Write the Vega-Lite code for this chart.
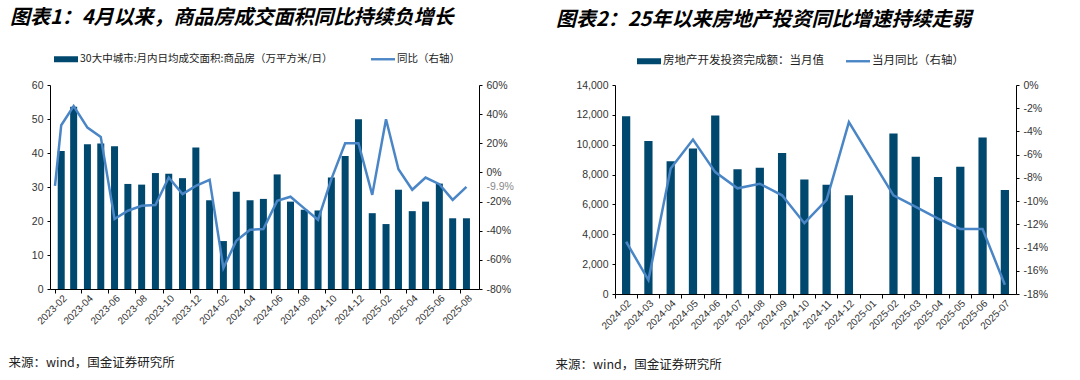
{
  "$schema": "https://vega.github.io/schema/vega-lite/v6.json",
  "background": "white",
  "padding": {"left": 8, "top": 8, "right": 0, "bottom": 0},
  "spacing": 41,
  "config": {
    "view": {"stroke": null},
    "axis": {"labelFont": "Liberation Sans", "labelFontSize": 10.5, "labelColor": "#333333", "domainColor": "#000000", "tickColor": "#000000", "grid": false, "tickSize": 3, "labelPadding": 4}
  },
  "resolve": {"scale": {"color": "independent"}, "legend": {"color": "independent"}},
  "hconcat": [
    {
      "width": 429,
      "height": 204,
      "title": {"text": "图表1：4月以来，商品房成交面积同比持续负增长", "anchor": "start", "frame": "group", "dx": -40, "offset": 19, "font": "Noto Sans CJK SC", "fontSize": 20, "fontWeight": "bold", "fontStyle": "italic", "color": "#000000"},
      "layer": [
        {
          "data": {"values": [
            {"month": "2023-02-15", "area": 40.6}, {"month": "2023-03-15", "area": 53.6}, {"month": "2023-04-15", "area": 42.6}, {"month": "2023-05-15", "area": 42.8}, {"month": "2023-06-15", "area": 42.0}, {"month": "2023-07-15", "area": 30.9}, {"month": "2023-08-15", "area": 30.7}, {"month": "2023-09-15", "area": 34.1}, {"month": "2023-10-15", "area": 33.9}, {"month": "2023-11-15", "area": 32.6}, {"month": "2023-12-15", "area": 41.6},
            {"month": "2024-01-15", "area": 26.1}, {"month": "2024-02-15", "area": 14.1}, {"month": "2024-03-15", "area": 28.6}, {"month": "2024-04-15", "area": 26.1}, {"month": "2024-05-15", "area": 26.5}, {"month": "2024-06-15", "area": 33.7}, {"month": "2024-07-15", "area": 25.7}, {"month": "2024-08-15", "area": 23.3}, {"month": "2024-09-15", "area": 23.1}, {"month": "2024-10-15", "area": 32.8}, {"month": "2024-11-15", "area": 39.1}, {"month": "2024-12-15", "area": 49.9},
            {"month": "2025-01-15", "area": 22.3}, {"month": "2025-02-15", "area": 19.1}, {"month": "2025-03-15", "area": 29.2}, {"month": "2025-04-15", "area": 22.9}, {"month": "2025-05-15", "area": 25.7}, {"month": "2025-06-15", "area": 31.0}, {"month": "2025-07-15", "area": 20.8}, {"month": "2025-08-15", "area": 20.8}
          ]},
          "mark": {"type": "bar", "size": 7},
          "encoding": {
            "x": {"field": "month", "type": "temporal",
              "scale": {"type": "utc", "domain": [{"year": 2023, "month": 2, "date": 1, "utc": true}, {"year": 2025, "month": 9, "date": 1, "utc": true}]},
              "axis": {"orient": "bottom", "ticks": false, "labelAngle": -45, "labelFontSize": 10, "labelOverlap": false, "labelExpr": "utcFormat(datum.value, '%Y-%m')",
                "values": [
                  {"year": 2023, "month": 2, "date": 15, "utc": true}, {"year": 2023, "month": 4, "date": 15, "utc": true}, {"year": 2023, "month": 6, "date": 15, "utc": true}, {"year": 2023, "month": 8, "date": 15, "utc": true}, {"year": 2023, "month": 10, "date": 15, "utc": true}, {"year": 2023, "month": 12, "date": 15, "utc": true},
                  {"year": 2024, "month": 2, "date": 15, "utc": true}, {"year": 2024, "month": 4, "date": 15, "utc": true}, {"year": 2024, "month": 6, "date": 15, "utc": true}, {"year": 2024, "month": 8, "date": 15, "utc": true}, {"year": 2024, "month": 10, "date": 15, "utc": true}, {"year": 2024, "month": 12, "date": 15, "utc": true},
                  {"year": 2025, "month": 2, "date": 15, "utc": true}, {"year": 2025, "month": 4, "date": 15, "utc": true}, {"year": 2025, "month": 6, "date": 15, "utc": true}, {"year": 2025, "month": 8, "date": 15, "utc": true}
                ],
                "title": "来源：wind，国金证券研究所", "titleX": -42, "titleY": 77, "titleAlign": "left", "titleBaseline": "alphabetic", "titleAngle": 0, "titleFont": "Noto Sans CJK SC", "titleFontSize": 12.5, "titleFontWeight": "normal", "titleColor": "#222222"}},
            "y": {"field": "area", "type": "quantitative", "scale": {"domain": [0, 60]},
              "axis": {"orient": "left", "values": [0, 10, 20, 30, 40, 50, 60], "title": null}},
            "color": {"datum": "30大中城市:月内日均成交面积:商品房（万平方米/日）", "type": "nominal",
              "scale": {"domain": ["30大中城市:月内日均成交面积:商品房（万平方米/日）", "同比（右轴）"], "range": ["#00486e", "#4a86c6"]},
              "legend": {"orient": "none", "legendX": 4, "legendY": -38, "direction": "horizontal", "title": null, "labelFont": "Noto Sans CJK SC", "labelFontSize": 10.5, "labelColor": "#222222", "labelLimit": 400, "columnPadding": 38, "labelOffset": 2,
                "encode": {"symbols": {"update": {
                  "shape": {"signal": "datum.value === '同比（右轴）' ? 'M-1,-0.1H1V0.1H-1Z' : 'M-1,-0.25H1V0.25H-1Z'"},
                  "fill": {"signal": "datum.value === '同比（右轴）' ? '#4a86c6' : '#00486e'"},
                  "stroke": {"value": "transparent"}, "strokeWidth": {"value": 0}, "size": {"value": 576}, "opacity": {"value": 1}}}}}}
          }
        },
        {
          "data": {"values": [
            {"month": "2023-02-01", "yoy": -9.2},
            {"month": "2023-02-15", "yoy": 32.4}, {"month": "2023-03-15", "yoy": 45.6}, {"month": "2023-04-15", "yoy": 30.8}, {"month": "2023-05-15", "yoy": 24.4}, {"month": "2023-06-15", "yoy": -32.0}, {"month": "2023-07-15", "yoy": -26.3}, {"month": "2023-08-15", "yoy": -22.9}, {"month": "2023-09-15", "yoy": -22.4}, {"month": "2023-10-15", "yoy": -3.5}, {"month": "2023-11-15", "yoy": -14.9}, {"month": "2023-12-15", "yoy": -9.2},
            {"month": "2024-01-15", "yoy": -5.1}, {"month": "2024-02-15", "yoy": -65.6}, {"month": "2024-03-15", "yoy": -46.9}, {"month": "2024-04-15", "yoy": -39.3}, {"month": "2024-05-15", "yoy": -38.9}, {"month": "2024-06-15", "yoy": -19.5}, {"month": "2024-07-15", "yoy": -16.7}, {"month": "2024-08-15", "yoy": -24.7}, {"month": "2024-09-15", "yoy": -32.5}, {"month": "2024-10-15", "yoy": -4.6}, {"month": "2024-11-15", "yoy": 20.0}, {"month": "2024-12-15", "yoy": 20.0},
            {"month": "2025-01-15", "yoy": -15.4}, {"month": "2025-02-15", "yoy": 36.5}, {"month": "2025-03-15", "yoy": 2.2}, {"month": "2025-04-15", "yoy": -11.9}, {"month": "2025-05-15", "yoy": -3.5}, {"month": "2025-06-15", "yoy": -8.1}, {"month": "2025-07-15", "yoy": -18.8}, {"month": "2025-08-15", "yoy": -9.9}
          ]},
          "mark": {"type": "line", "strokeWidth": 2.5, "strokeJoin": "miter"},
          "encoding": {
            "x": {"field": "month", "type": "temporal",
              "axis": {"orient": "bottom", "labels": false, "domain": false, "ticks": true, "tickSize": 4, "title": null,
                "values": [
                  {"year": 2023, "month": 2, "date": 1, "utc": true}, {"year": 2023, "month": 4, "date": 1, "utc": true}, {"year": 2023, "month": 6, "date": 1, "utc": true}, {"year": 2023, "month": 8, "date": 1, "utc": true}, {"year": 2023, "month": 10, "date": 1, "utc": true}, {"year": 2023, "month": 12, "date": 1, "utc": true},
                  {"year": 2024, "month": 2, "date": 1, "utc": true}, {"year": 2024, "month": 4, "date": 1, "utc": true}, {"year": 2024, "month": 6, "date": 1, "utc": true}, {"year": 2024, "month": 8, "date": 1, "utc": true}, {"year": 2024, "month": 10, "date": 1, "utc": true}, {"year": 2024, "month": 12, "date": 1, "utc": true},
                  {"year": 2025, "month": 2, "date": 1, "utc": true}, {"year": 2025, "month": 4, "date": 1, "utc": true}, {"year": 2025, "month": 6, "date": 1, "utc": true}, {"year": 2025, "month": 8, "date": 1, "utc": true}
                ]}},
            "y": {"field": "yoy", "type": "quantitative", "scale": {"domain": [-80, 60]},
              "axis": {"orient": "right", "title": null, "values": [60, 40, 20, 0, -9.9, -20, -40, -60, -80], "labelExpr": "datum.value + '%'",
                "labelColor": {"condition": {"test": "datum.value == -9.9", "value": "#8a8a8a"}, "value": "#333333"},
                "tickColor": {"condition": {"test": "datum.value == -9.9", "value": "transparent"}, "value": "#000000"}}},
            "color": {"datum": "同比（右轴）", "type": "nominal",
              "scale": {"domain": ["30大中城市:月内日均成交面积:商品房（万平方米/日）", "同比（右轴）"], "range": ["#00486e", "#4a86c6"]},
              "legend": {"orient": "none", "legendX": 4, "legendY": -38, "direction": "horizontal", "title": null, "labelFont": "Noto Sans CJK SC", "labelFontSize": 10.5, "labelColor": "#222222", "labelLimit": 400, "columnPadding": 38, "labelOffset": 2,
                "encode": {"symbols": {"update": {
                  "shape": {"signal": "datum.value === '同比（右轴）' ? 'M-1,-0.1H1V0.1H-1Z' : 'M-1,-0.25H1V0.25H-1Z'"},
                  "fill": {"signal": "datum.value === '同比（右轴）' ? '#4a86c6' : '#00486e'"},
                  "stroke": {"value": "transparent"}, "strokeWidth": {"value": 0}, "size": {"value": 576}, "opacity": {"value": 1}}}}}}
          }
        }
      ],
      "resolve": {"scale": {"y": "independent"}, "axis": {"x": "independent"}}
    },
    {
      "width": 401,
      "height": 209,
      "title": {"text": "图表2：25年以来房地产投资同比增速持续走弱", "anchor": "start", "frame": "group", "dx": -59, "offset": 19, "font": "Noto Sans CJK SC", "fontSize": 20, "fontWeight": "bold", "fontStyle": "italic", "color": "#000000"},
      "layer": [
        {
          "data": {"values": [
            {"month": "2024-02", "inv": 11900}, {"month": "2024-03", "inv": 10250}, {"month": "2024-04", "inv": 8900}, {"month": "2024-05", "inv": 9750}, {"month": "2024-06", "inv": 11950}, {"month": "2024-07", "inv": 8360}, {"month": "2024-08", "inv": 8450}, {"month": "2024-09", "inv": 9450}, {"month": "2024-10", "inv": 7670}, {"month": "2024-11", "inv": 7310}, {"month": "2024-12", "inv": 6620},
            {"month": "2025-02", "inv": 10750}, {"month": "2025-03", "inv": 9190}, {"month": "2025-04", "inv": 7830}, {"month": "2025-05", "inv": 8520}, {"month": "2025-06", "inv": 10480}, {"month": "2025-07", "inv": 6960}
          ]},
          "mark": {"type": "bar", "width": {"band": 0.37}},
          "encoding": {
            "x": {"field": "month", "type": "ordinal", "sort": null,
              "scale": {"domain": ["2024-02", "2024-03", "2024-04", "2024-05", "2024-06", "2024-07", "2024-08", "2024-09", "2024-10", "2024-11", "2024-12", "2025-01", "2025-02", "2025-03", "2025-04", "2025-05", "2025-06", "2025-07"], "paddingInner": 0, "paddingOuter": 0},
              "axis": {"orient": "bottom", "ticks": false, "labelAngle": -45, "labelFontSize": 10, "labelOverlap": false,
                "title": "来源：wind，国金证券研究所", "titleX": -60, "titleY": 74, "titleAlign": "left", "titleBaseline": "alphabetic", "titleAngle": 0, "titleFont": "Noto Sans CJK SC", "titleFontSize": 12.5, "titleFontWeight": "normal", "titleColor": "#222222"}},
            "y": {"field": "inv", "type": "quantitative", "scale": {"domain": [0, 14000]},
              "axis": {"orient": "left", "values": [0, 2000, 4000, 6000, 8000, 10000, 12000, 14000], "format": ",.0f", "title": null}},
            "color": {"datum": "房地产开发投资完成额：当月值", "type": "nominal",
              "scale": {"domain": ["房地产开发投资完成额：当月值", "当月同比（右轴）"], "range": ["#00486e", "#4a86c6"]},
              "legend": {"orient": "none", "legendX": 22, "legendY": -36, "direction": "horizontal", "title": null, "labelFont": "Noto Sans CJK SC", "labelFontSize": 11.5, "labelColor": "#222222", "labelLimit": 400, "columnPadding": 22, "labelOffset": 2,
                "encode": {"symbols": {"update": {
                  "shape": {"signal": "datum.value === '当月同比（右轴）' ? 'M-1,-0.1H1V0.1H-1Z' : 'M-1,-0.25H1V0.25H-1Z'"},
                  "fill": {"signal": "datum.value === '当月同比（右轴）' ? '#4a86c6' : '#00486e'"},
                  "stroke": {"value": "transparent"}, "strokeWidth": {"value": 0}, "size": {"value": 576}, "opacity": {"value": 1}}}}}}
          }
        },
        {
          "data": {"values": [
            {"month": "2024-02", "yoy": -13.5}, {"month": "2024-03", "yoy": -16.8}, {"month": "2024-04", "yoy": -7.2}, {"month": "2024-05", "yoy": -4.7}, {"month": "2024-06", "yoy": -7.5}, {"month": "2024-07", "yoy": -8.9}, {"month": "2024-08", "yoy": -8.5}, {"month": "2024-09", "yoy": -9.5}, {"month": "2024-10", "yoy": -11.9}, {"month": "2024-11", "yoy": -9.9}, {"month": "2024-12", "yoy": -3.2},
            {"month": "2025-02", "yoy": -9.5}, {"month": "2025-03", "yoy": -10.5}, {"month": "2025-04", "yoy": -11.5}, {"month": "2025-05", "yoy": -12.4}, {"month": "2025-06", "yoy": -12.4}, {"month": "2025-07", "yoy": -17.2}
          ]},
          "mark": {"type": "line", "strokeWidth": 2.5, "strokeJoin": "miter"},
          "encoding": {
            "x": {"field": "month", "type": "ordinal", "sort": null,
              "axis": {"orient": "bottom", "labels": false, "domain": false, "ticks": true, "tickSize": 4, "bandPosition": 0, "title": null}},
            "y": {"field": "yoy", "type": "quantitative", "scale": {"domain": [-18, 0]},
              "axis": {"orient": "right", "title": null, "values": [0, -2, -4, -6, -8, -10, -12, -14, -16, -18], "labelExpr": "datum.value + '%'"}},
            "color": {"datum": "当月同比（右轴）", "type": "nominal",
              "scale": {"domain": ["房地产开发投资完成额：当月值", "当月同比（右轴）"], "range": ["#00486e", "#4a86c6"]},
              "legend": {"orient": "none", "legendX": 22, "legendY": -36, "direction": "horizontal", "title": null, "labelFont": "Noto Sans CJK SC", "labelFontSize": 11.5, "labelColor": "#222222", "labelLimit": 400, "columnPadding": 22, "labelOffset": 2,
                "encode": {"symbols": {"update": {
                  "shape": {"signal": "datum.value === '当月同比（右轴）' ? 'M-1,-0.1H1V0.1H-1Z' : 'M-1,-0.25H1V0.25H-1Z'"},
                  "fill": {"signal": "datum.value === '当月同比（右轴）' ? '#4a86c6' : '#00486e'"},
                  "stroke": {"value": "transparent"}, "strokeWidth": {"value": 0}, "size": {"value": 576}, "opacity": {"value": 1}}}}}}
          }
        }
      ],
      "resolve": {"scale": {"y": "independent"}, "axis": {"x": "independent"}}
    }
  ]
}
